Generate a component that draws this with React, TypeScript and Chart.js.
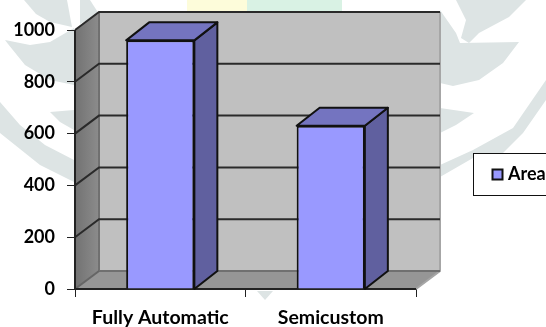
import React, { useEffect, useRef } from "react";
import { Chart, registerables } from "chart.js";

Chart.register(...registerables);

const categories = ["Fully Automatic", "Semicustom"];
const areaValues = [960, 630];
const seriesName = "Area";
const yTicks = [0, 200, 400, 600, 800, 1000];

const FONT = "Lato, 'Open Sans', sans-serif";
const DEPTH_X = 24;
const DEPTH_Y = 18;

type Pt = [number, number];

function poly(ctx: CanvasRenderingContext2D, pts: Pt[], fill: string | CanvasGradient, stroke?: string, lw = 1) {
  ctx.beginPath();
  pts.forEach(([x, y], i) => (i ? ctx.lineTo(x, y) : ctx.moveTo(x, y)));
  ctx.closePath();
  ctx.fillStyle = fill;
  ctx.fill();
  if (stroke) {
    ctx.strokeStyle = stroke;
    ctx.lineWidth = lw;
    ctx.lineJoin = "round";
    ctx.stroke();
  }
}

// Page decoration behind the plot: the faint emblem strokes and the pale tint along the top.
const emblemStrokes: Pt[][] = [
  [[24, 0], [67, 0], [72, 27], [50, 22], [36, 14]],
  [[80, 0], [90, 0], [99, 14], [80, 24]],
  [[5, 40], [30, 45], [50, 42], [74, 28], [74, 85], [50, 80], [25, 65], [8, 44]],
  [[50, 112], [74, 110], [74, 130], [60, 122]],
  [[0, 102], [20, 125], [45, 145], [74, 160], [74, 182], [40, 165], [15, 145], [0, 133]],
  [[456, 0], [526, 0], [509, 17], [479, 33], [469, 43], [461, 38], [466, 20]],
  [[440, 10], [456, 33], [460, 43], [519, 42], [503, 63], [479, 80], [453, 86], [440, 83]],
  [[440, 108], [474, 113], [456, 125], [440, 133]],
  [[440, 165], [473, 150], [513, 128], [546, 80], [546, 100], [523, 133], [503, 153], [473, 158], [440, 177]],
  [[257, 291], [273, 291], [265, 300]],
];

const backdropPlugin = {
  id: "backdrop",
  beforeDraw(chart: Chart) {
    const { ctx } = chart;
    ctx.save();
    emblemStrokes.forEach((s) => poly(ctx, s, "#dde4e4"));
    ctx.fillStyle = "#fdfcda";
    ctx.fillRect(187, 0, 60, 11);
    ctx.fillStyle = "#d9f2e4";
    ctx.fillRect(247, 0, 95, 11);
    ctx.restore();
  },
};

// Back wall, side wall, floor and receding grid lines of the 3D plot box.
const boxPlugin = {
  id: "box",
  beforeDatasetsDraw(chart: Chart) {
    const { ctx, chartArea: a } = chart;
    const y = chart.scales.y;
    const dx = DEPTH_X;
    const dy = DEPTH_Y;
    ctx.save();
    poly(ctx, [[a.left + dx, a.top - dy], [a.right + dx, a.top - dy], [a.right + dx, a.bottom - dy], [a.left + dx, a.bottom - dy]], "#c0c0c0");
    const wall = ctx.createLinearGradient(a.left, 0, a.left + dx, 0);
    wall.addColorStop(0, "#727272");
    wall.addColorStop(1, "#8c8c8c");
    poly(ctx, [[a.left, a.top], [a.left + dx, a.top - dy], [a.left + dx, a.bottom - dy], [a.left, a.bottom]], wall);
    poly(ctx, [[a.left, a.bottom], [a.left + dx, a.bottom - dy], [a.right + dx, a.bottom - dy], [a.right, a.bottom]], "#969696");

    ctx.strokeStyle = "#a6a6a6";
    ctx.lineWidth = 2;
    ctx.beginPath();
    ctx.moveTo(a.right + dx, a.top - dy);
    ctx.lineTo(a.right + dx, a.bottom - dy);
    ctx.lineTo(a.right, a.bottom);
    ctx.stroke();
    ctx.strokeStyle = "#707070";
    ctx.beginPath();
    ctx.moveTo(a.left + dx, a.top - dy);
    ctx.lineTo(a.left + dx, a.bottom - dy);
    ctx.lineTo(a.right + dx, a.bottom - dy);
    ctx.stroke();

    yTicks.forEach((v) => {
      const py = y.getPixelForValue(v);
      ctx.strokeStyle = v === 0 ? "#666666" : "#2a2a2a";
      ctx.lineWidth = 2;
      ctx.beginPath();
      ctx.moveTo(a.left, py);
      ctx.lineTo(a.left + dx, py - dy);
      if (v !== 0) ctx.lineTo(a.right + dx, py - dy);
      ctx.stroke();
    });

    ctx.strokeStyle = "#222222";
    ctx.lineWidth = 2;
    ctx.beginPath();
    ctx.moveTo(a.left, a.top);
    ctx.lineTo(a.left, a.bottom);
    ctx.lineTo(a.right, a.bottom);
    ctx.stroke();
    ctx.restore();
  },
  // Side and top faces of each column, placed from its rendered front face.
  afterDatasetsDraw(chart: Chart) {
    const { ctx, chartArea: a } = chart;
    const dx = DEPTH_X - 1;
    const dy = DEPTH_Y;
    ctx.save();
    chart.getDatasetMeta(0).data.forEach((el: any) => {
      const { x, y, width } = el.getProps(["x", "y", "width"], true);
      const l = x - width / 2;
      const r = x + width / 2;
      const b = a.bottom;
      poly(ctx, [[r, y], [r + dx, y - dy], [r + dx, b - dy], [r, b]], "#60609f", "#111111", 2);
      poly(ctx, [[l, y], [l + dx, y - dy], [r + dx, y - dy], [r, y]], "#7474c0", "#111111", 2);
    });
    ctx.restore();
  },
};

// Boxed key on the right edge, its text taken from the dataset label.
const keyPlugin = {
  id: "key",
  afterDraw(chart: Chart) {
    const { ctx } = chart;
    const ds = chart.data.datasets[0];
    ctx.save();
    ctx.fillStyle = "#ffffff";
    ctx.fillRect(473.5, 153.5, 80, 42);
    ctx.strokeStyle = "#111111";
    ctx.lineWidth = 1;
    ctx.strokeRect(473.5, 153.5, 80, 42);
    ctx.fillStyle = ds.backgroundColor as string;
    ctx.strokeStyle = "#111111";
    ctx.lineWidth = 2;
    ctx.fillRect(492.5, 169.5, 10, 10);
    ctx.strokeRect(492.5, 169.5, 10, 10);
    ctx.fillStyle = "#000000";
    ctx.font = `bold 18px ${FONT}`;
    ctx.textBaseline = "middle";
    ctx.textAlign = "left";
    ctx.fillText(ds.label as string, 508, 174.5);
    ctx.restore();
  },
};

export default function App() {
  const ref = useRef<HTMLCanvasElement>(null);
  useEffect(() => {
    const chart = new Chart(ref.current!, {
      type: "bar",
      data: {
        labels: categories,
        datasets: [
          {
            label: seriesName,
            data: areaValues,
            backgroundColor: "#9999ff",
            borderColor: "#111111",
            borderWidth: 2,
            barPercentage: 0.4,
            categoryPercentage: 1,
          },
        ],
      },
      options: {
        animation: false,
        responsive: false,
        layout: { padding: { top: 30, right: 130, bottom: 0, left: 0 } },
        plugins: { legend: { display: false }, title: { display: false }, tooltip: { enabled: false } },
        scales: {
          y: {
            min: 0,
            max: 1000,
            afterFit: (s: any) => {
              s.width = 75;
            },
            afterBuildTicks: (s: any) => {
              s.ticks = yTicks.map((value) => ({ value }));
            },
            grid: { drawOnChartArea: false, tickLength: 8, color: "#222222", tickWidth: 1 },
            border: { display: false },
            ticks: {
              color: "#000000",
              padding: 12,
              callback: (v: number) => String(v),
              font: { family: FONT, size: 18, weight: "bold" },
            },
          },
          x: {
            afterFit: (s: any) => {
              s.height = 38;
            },
            grid: { drawOnChartArea: false, tickLength: 8, color: "#222222", tickWidth: 1, offset: true },
            border: { display: false },
            ticks: { color: "#000000", padding: 9, maxRotation: 0, font: { family: FONT, size: 19.5, weight: "bold" } },
          },
        },
      } as any,
      plugins: [backdropPlugin, boxPlugin, keyPlugin],
    });
    return () => chart.destroy();
  }, []);
  return (
    <div style={{ position: "fixed", left: 0, top: 0, width: 546, height: 327, background: "#ffffff" }}>
      <canvas ref={ref} width={546} height={327} style={{ display: "block" }} />
    </div>
  );
}
